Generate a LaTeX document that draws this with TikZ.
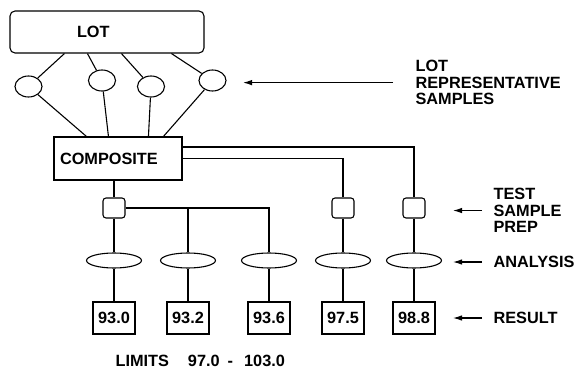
\documentclass[tikz,border=0pt]{standalone}
\usepackage{fontspec}
\setmainfont{Liberation Sans}
\usetikzlibrary{shapes.geometric, arrows.meta}

\begin{document}
\begin{tikzpicture}[
    x=1pt, y=-1pt,
    >={Latex[length=9pt,width=5.5pt]},
    line width=1.1pt,
    every node/.style={font=\fontsize{16.3}{16.3}\selectfont\bfseries},
    bigbox/.style={
        draw,
        inner sep=0pt,
        align=left
    },
    sample/.style={
        draw,
        ellipse,
        minimum width=27pt,
        minimum height=21pt,
        inner sep=0pt
    },
    prep/.style={
        draw,
        rounded corners=3pt,
        minimum width=22pt,
        minimum height=20pt,
        inner sep=0pt
    },
    analysis/.style={
        draw,
        ellipse,
        minimum width=55pt,
        minimum height=15pt,
        inner sep=0pt
    },
    result/.style={
        draw,
        minimum width=42pt,
        minimum height=32pt,
        inner sep=0pt
    },
    lab/.style={
        align=left,
        inner sep=0pt,
        anchor=west
    }
]
\useasboundingbox (0,0) rectangle (576,369);

    % === Lot, samples, composite ===
    \node[bigbox, rounded corners=5pt, minimum width=194pt, minimum height=42pt,
          text width=60pt, inner xsep=67pt] (lot) at (107,32) {LOT};
    \node[bigbox, minimum width=128pt, minimum height=43pt,
          text width=116pt, inner xsep=6pt] (comp) at (118,158.5) {COMPOSITE};

    \node[sample] (s1) at (28.5,86.5) {};
    \node[sample] (s2) at (102,80.5) {};
    \node[sample] (s3) at (151,86.5) {};
    \node[sample] (s4) at (212.5,80.5) {};

    \foreach \s/\a/\b in {s1/55/33, s2/78/55, s3/112/95, s4/162/110}
        \draw ([xshift=\a pt]lot.south west) -- (\s) -- ([xshift=\b pt]comp.north west);

    % === Test sample prep ===
    \node[prep] (p1) at (114,208) {};
    \node[prep] (p2) at (343,208) {};
    \node[prep] (p3) at (414,208) {};

    \draw (comp.south -| p1) -- (p1);
    \draw (comp.east) -| (p2);
    \draw ([yshift=11.5pt]comp.east) -| (p3);

    % === Analysis and results ===
    \foreach \i/\x/\v in {1/114/93.0, 2/188/93.2, 3/269/93.6, 4/343/97.5, 5/414/98.8} {
        \node[analysis] (a\i) at (\x,260.5) {};
        \node[result] (r\i) at (\x,318) {\v};
        \draw (a\i) -- (r\i);
    }

    \draw (p1) -- (a1);
    \draw (p1.east) -| (a3);
    \draw (a2 |- p1) -- (a2);
    \draw (p2) -- (a4);
    \draw (p3) -- (a5);

    % === Labels on the right ===
    \node[lab, anchor=north west] (lotlab) at (415,60) {LOT\\REPRESENTATIVE\\SAMPLES};
    \node[lab, anchor=north west] (preplab) at (493,188) {TEST\\SAMPLE\\PREP};
    \node[lab] (anallab) at (493,262) {ANALYSIS};
    \node[lab] (reslab) at (493,318) {RESULT};

    \draw[->] ([xshift=-22pt]lotlab.west) -- ++(-150,0);
    \draw[->] ([xshift=-11pt]preplab.west) -- ++(-29,0);
    \draw[->] ([xshift=-11pt]anallab.west) -- ++(-29,0);
    \draw[->] ([xshift=-11pt]reslab.west) -- ++(-29,0);

    % === Limits ===
    \node[anchor=west, inner sep=0pt] (limits) at (115,361)
        {LIMITS\hspace{19pt}97.0\hspace{8pt}-\hspace{11pt}103.0};

\end{tikzpicture}
\end{document}
